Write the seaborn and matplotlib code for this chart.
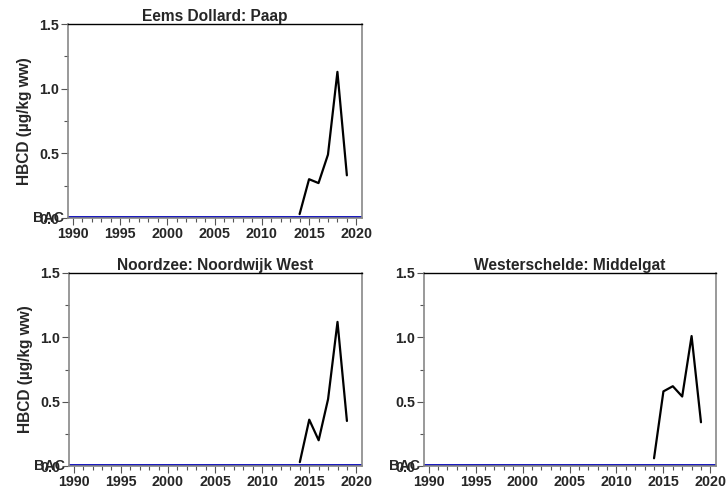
import numpy as np
import pandas as pd
import matplotlib
matplotlib.use('Agg')
import matplotlib.pyplot as plt
import seaborn as sns
from matplotlib.ticker import MultipleLocator

sns.set_style('white')
plt.rcParams['font.family'] = ['Liberation Sans', 'DejaVu Sans']
plt.rcParams['font.weight'] = 'bold'

years = [2014, 2015, 2016, 2017, 2018, 2019]
paap = [0.03, 0.30, 0.27, 0.49, 1.13, 0.33]
noordwijk = [0.03, 0.36, 0.20, 0.52, 1.12, 0.35]
middelgat = [0.06, 0.58, 0.62, 0.54, 1.01, 0.34]
bac_level = 0.01
titles = ['Eems Dollard: Paap', 'Noordzee: Noordwijk West', 'Westerschelde: Middelgat']
ylabel = 'HBCD (µg/kg ww)'

fig = plt.figure(figsize=(7.26, 4.93), dpi=100)
W, H = 726, 493
boxes = [(68, 24, 362, 218), (69, 273, 362, 466), (424, 273, 716, 466)]
series = [paap, noordwijk, middelgat]

for i, (box, vals, title) in enumerate(zip(boxes, series, titles)):
    x0, y0, x1, y1 = box
    ax = fig.add_axes([x0 / W, 1 - y1 / H, (x1 - x0) / W, (y1 - y0) / H])
    df = pd.DataFrame({'jaar': years, 'waarde': vals})
    sns.lineplot(data=df, x='jaar', y='waarde', color='black', lw=1.6, ax=ax)
    ax.axhline(bac_level, color='#0000b8', lw=2)
    ax.set_xlim(1989.5, 2020.6)
    ax.set_ylim(0, 1.5)
    ax.xaxis.set_major_locator(MultipleLocator(5))
    ax.xaxis.set_minor_locator(MultipleLocator(1))
    ax.yaxis.set_major_locator(MultipleLocator(0.5))
    ax.yaxis.set_minor_locator(MultipleLocator(0.25))
    ax.yaxis.set_major_formatter(matplotlib.ticker.FormatStrFormatter('%.1f'))
    ax.tick_params(axis='both', which='major', direction='out', length=5, width=0.8,
                   labelsize=10.3, pad=1.5, bottom=True, left=True, color='#555555')
    ax.tick_params(axis='both', which='minor', direction='out', length=3, width=0.8,
                   bottom=True, left=True, color='#555555')
    for lab in ax.get_xticklabels() + ax.get_yticklabels():
        lab.set_fontweight('bold')
    for side in ['left', 'right', 'bottom']:
        ax.spines[side].set_color('#888888')
        ax.spines[side].set_linewidth(1.2)
    ax.spines['top'].set_color('black')
    ax.spines['top'].set_linewidth(1.0)
    ax.set_xlabel('')
    ax.text(-0.12, 0.0, 'BAC', transform=ax.transAxes, ha='left', va='center',
            fontsize=10.3, fontweight='bold')
    ax.set_title(title, fontsize=11.2, fontweight='bold', pad=2)
    if i < 2:
        ax.set_ylabel(ylabel, fontsize=11.2, fontweight='bold', labelpad=5)
    else:
        ax.set_ylabel('')

fig.savefig('out.png', dpi=100)
